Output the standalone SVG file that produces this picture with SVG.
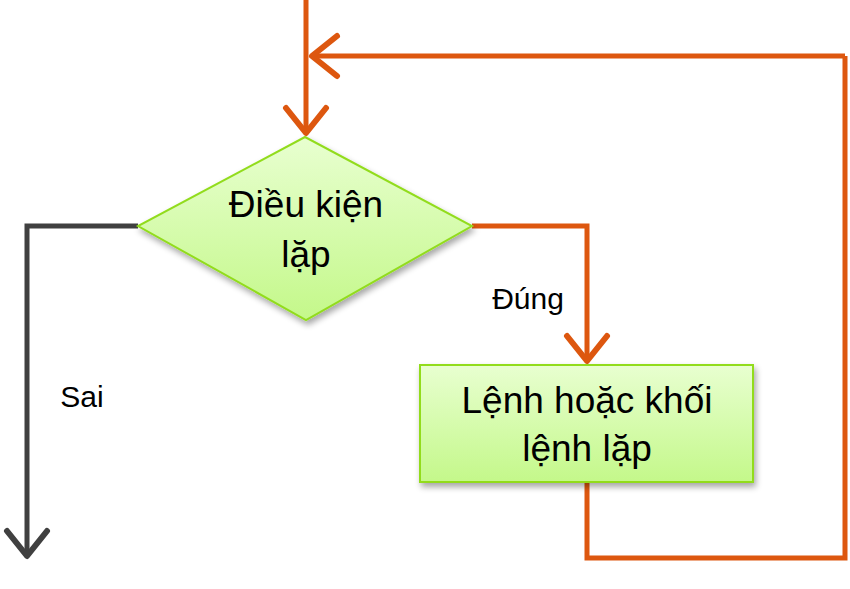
<svg xmlns="http://www.w3.org/2000/svg" width="850" height="589" viewBox="0 0 850 589">
<style>
.node{stroke:#92DC1E;stroke-width:2;fill:url(#g);filter:url(#sh)}
.t{font-family:"Liberation Sans",Arial,sans-serif;fill:#000;text-anchor:middle}
.big{font-size:37px}
.lab{font-size:30px}
.or{fill:none;stroke:#DD570F;stroke-width:5}
.gr{fill:none;stroke:#404040;stroke-width:5}
</style>
<defs>
<linearGradient id="g" x1="0" y1="0" x2="0" y2="1">
<stop offset="0" stop-color="#E8FFD0"/>
<stop offset="1" stop-color="#C4F88A"/>
</linearGradient>
<filter id="sh" x="-10%" y="-10%" width="130%" height="140%">
<feGaussianBlur in="SourceAlpha" stdDeviation="3"/>
<feOffset dx="2" dy="4"/>
<feComponentTransfer><feFuncA type="linear" slope="0.35"/></feComponentTransfer>
<feMerge><feMergeNode/><feMergeNode in="SourceGraphic"/></feMerge>
</filter>
<marker id="ao" markerWidth="8" markerHeight="10" refX="6.5" refY="5" orient="auto" markerUnits="strokeWidth" viewBox="0 0 8 10">
<path d="M1.5,1 L6.5,5 L1.5,9" fill="none" stroke="#DD570F" stroke-width="1.2" stroke-linecap="round" stroke-linejoin="round"/>
</marker>
<marker id="ag" markerWidth="8" markerHeight="10" refX="6.5" refY="5" orient="auto" markerUnits="strokeWidth" viewBox="0 0 8 10">
<path d="M1.5,1 L6.5,5 L1.5,9" fill="none" stroke="#404040" stroke-width="1.2" stroke-linecap="round" stroke-linejoin="round"/>
</marker>
</defs>
<g id="connectors">
<path class="or" d="M306,0 V133" marker-end="url(#ao)"/>
<path class="or" d="M845,56 H312" marker-end="url(#ao)"/>
<path class="or" d="M587,482 V558 H845 V56"/>
<path class="or" d="M472,226 H587 V361" marker-end="url(#ao)"/>
<path class="gr" d="M138,226 H27 V556" marker-end="url(#ag)"/>
<text class="t lab" x="528" y="309">Đúng</text>
<text class="t lab" x="82" y="407">Sai</text>
</g>
<g id="condition">
<polygon class="node" points="305,137 472,226 306,320 138,226"/>
<text class="t big" x="306" y="217">Điều kiện</text>
<text class="t big" x="306" y="267">lặp</text>
</g>
<g id="body">
<rect class="node" x="420" y="365" width="333" height="117"/>
<text class="t big" x="587" y="413">Lệnh hoặc khối</text>
<text class="t big" x="587" y="461">lệnh lặp</text>
</g>
</svg>
